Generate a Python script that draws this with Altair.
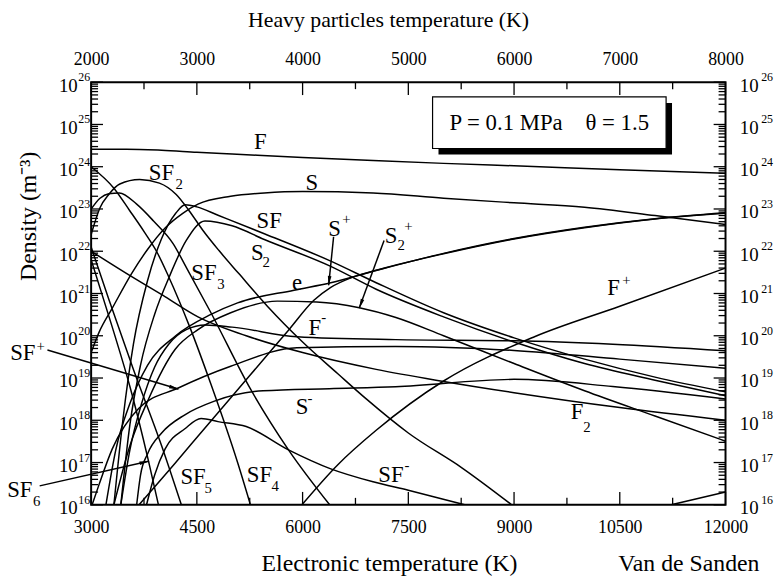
import altair as alt
import pandas as pd

FONT = "Liberation Serif"
W, H = 641, 427

# ---------------- curve data: electronic temperature (K) -> density (m^-3) ----------------
F_T = [3000, 3500, 4000, 4500, 5000, 6000, 7000, 8000, 9000, 10500, 12000]
F_N = [2.6e24, 2.6e24, 2.45e24, 2.2e24, 2.0e24, 1.65e24, 1.4e24, 1.2e24, 1.05e24, 8.5e23, 7.0e23]

S_T = [3000, 3112, 3300, 3576, 3800, 4053, 4300, 4516, 4980, 5457, 6000, 7000, 8000, 9000, 10000, 11000, 12000]
S_N = [4.0e19, 1.2e20, 4.5e20, 3.0e21, 1.1e22, 3.6e22, 7.9e22, 1.3e23, 2.0e23, 2.4e23, 2.6e23, 2.4e23, 1.8e23, 1.4e23, 1.1e23, 7.0e22, 4.3e22]

SF_T = [3323, 3450, 3600, 3800, 4000, 4200, 4334, 4500, 4800, 5457, 6384, 7044, 8000, 9000, 10000, 11000, 12000]
SF_N = [1e16, 1e18, 6.3e19, 2.0e21, 2.0e22, 7.9e22, 1.26e23, 1.12e23, 7.1e22, 2.6e22, 6.0e21, 1.8e21, 3.5e20, 8.9e19, 2.8e19, 1.05e19, 4.7e18]

S2_T = [3421, 3550, 3700, 3900, 4109, 4350, 4615, 5000, 5457, 6384, 7044, 8000, 9000, 10000, 11000, 12000]
S2_N = [1e16, 7.9e17, 2.0e19, 3.2e20, 2.5e21, 1.8e22, 5.2e22, 4.0e22, 1.9e22, 4.5e21, 1.26e21, 2.8e20, 7.1e19, 2.2e19, 8.9e18, 3.8e18]

SF2_T = [3000, 3126, 3250, 3407, 3688, 3969, 4207, 4390, 4587, 4811, 5092, 5500, 6000, 6500, 6903, 7500, 8265, 8967]
SF2_N = [2.5e22, 1.07e23, 2.2e23, 3.9e23, 5.0e23, 4.1e23, 2.2e23, 9.1e22, 3.1e22, 1.05e22, 3.0e21, 5.0e20, 7.1e19, 1.26e19, 3.2e18, 5.0e17, 7.4e16, 1.0e16]

SF3_T = [3000, 3126, 3250, 3400, 3646, 3885, 4165, 4348, 4700, 5260, 5800, 6384]
SF3_N = [1.0e23, 1.8e23, 2.3e23, 2.4e23, 1.3e23, 5.2e22, 1.5e22, 4.2e21, 3.5e20, 5.5e18, 2.0e17, 1.0e16]

SF4_T = [3000, 3323, 3548, 3758, 3927, 4100, 4400, 4700, 5078, 5260]
SF4_N = [1.0e24, 3.1e23, 9.1e22, 2.8e22, 1.0e22, 2.5e21, 1.6e20, 7.1e18, 1.0e17, 1.0e16]

SF5_T = [3000, 3253, 3600, 4000, 4280]
SF5_N = [1.26e22, 7.1e20, 1.6e19, 2.5e17, 1.0e16]

SF6_T = [3000, 3300, 3550, 3815, 3955]
SF6_N = [6.3e21, 1.6e20, 6.3e18, 1.07e17, 1.0e16]

F2_T = [3000, 3576, 4053, 4516, 5200, 6000, 7044, 8000, 9000, 10500, 12000]
F2_N = [1.0e22, 2.5e21, 8.3e20, 2.8e20, 1.0e20, 4.0e19, 1.6e19, 8.3e18, 4.5e18, 2.0e18, 1.0e18]

E_T = [3210, 3350, 3550, 3800, 4200, 4700, 5078, 5878, 6400, 7044, 8000, 9000, 10000, 11000, 12000]
E_N = [1.0e16, 2.0e17, 2.5e18, 2.0e19, 1.0e20, 3.2e20, 6.0e20, 1.2e21, 1.8e21, 3.5e21, 8.9e21, 2.0e22, 3.7e22, 5.9e22, 8.1e22]

SP_T = [3680, 4200, 4615, 5000, 5457, 5800, 6160, 6400, 6700, 7086, 8000, 9000, 10000, 11000, 12000]
SP_N = [1.0e16, 1.0e17, 6.6e17, 3.7e18, 2.9e19, 1.35e20, 6.9e20, 1.4e21, 2.4e21, 3.7e21, 8.7e21, 1.95e22, 3.6e22, 5.8e22, 7.9e22]

S2P_T = [3323, 3550, 3815, 4193, 4516, 4980, 5640, 6200, 6805, 7324, 8000, 9000, 10000, 11000, 12000]
S2P_N = [1.0e16, 2.5e17, 3.2e18, 4.8e19, 1.4e20, 3.5e20, 6.6e20, 6.3e20, 4.6e20, 2.7e20, 1.0e20, 2.2e19, 5.0e18, 1.26e18, 3.2e17]

FP_T = [5990, 6500, 7044, 8000, 9290, 10500, 12000]
FP_N = [1.0e16, 8.9e16, 5.8e17, 8.5e18, 9.5e19, 5.0e20, 4.0e21]

FM_T = [3421, 3550, 3716, 3900, 4100, 4350, 4620, 5000, 5920, 7320, 9000, 10400, 12000]
FM_N = [1e16, 2.0e17, 2.5e18, 1.8e19, 6.3e19, 1.4e20, 1.8e20, 1.6e20, 9.5e19, 8.1e19, 7.6e19, 6.3e19, 4.4e19]

SFP_T = [3014, 3112, 3300, 3674, 4236, 4980, 5920, 7320, 9000, 10500, 12000]
SFP_N = [1e16, 3.0e16, 2.1e17, 1.9e18, 5.8e18, 1.9e19, 5.2e19, 5.6e19, 4.5e19, 2.8e19, 1.7e19]

SM_T = [3646, 3700, 3800, 4000, 4330, 4740, 5440, 6380, 7320, 9000, 10400, 12000]
SM_N = [1e16, 5.0e16, 1.6e17, 5.0e17, 1.35e18, 2.8e18, 5.0e18, 5.6e18, 6.2e18, 9.3e18, 6.3e18, 3.2e18]

SFM_T = [3786, 3900, 4050, 4330, 4560, 4800, 5200, 5800, 6400, 7000, 7500, 8300]
SFM_N = [1e16, 5.0e16, 2.1e17, 6.3e17, 1.1e18, 9.3e17, 7.1e17, 2.0e17, 7.1e16, 3.5e16, 2.2e16, 1.0e16]

X_T = [11230, 12000]
X_N = [1e16, 2e16]

SPECIES = [
    ("F", F_T, F_N), ("S", S_T, S_N), ("SF", SF_T, SF_N), ("S2", S2_T, S2_N),
    ("SF2", SF2_T, SF2_N), ("SF3", SF3_T, SF3_N), ("SF4", SF4_T, SF4_N),
    ("SF5", SF5_T, SF5_N), ("SF6", SF6_T, SF6_N), ("F2", F2_T, F2_N),
    ("e", E_T, E_N), ("S+", SP_T, SP_N), ("S2+", S2P_T, S2P_N), ("F+", FP_T, FP_N),
    ("F-", FM_T, FM_N), ("SF+", SFP_T, SFP_N), ("S-", SM_T, SM_N), ("SF-", SFM_T, SFM_N),
    ("X", X_T, X_N),
]

# ---------------- labels (position in data units) ----------------
LABEL_TEXT = ["F", "S", "SF", "SF", "S", "SF", "e", "S", "S", "F", "F", "SF", "S", "F", "SF", "SF", "SF", "SF"]
LABEL_TE = [5401, 6131, 3997, 5527, 5359, 4601, 5920, 6454, 7254, 6173, 10413, 2031, 5991, 9894, 7254, 5387, 4446, 1989]
LABEL_N = [3.9e24, 4.1e23, 7.0e23, 5.3e22, 8.9e21, 3.0e21, 1.76e21, 3.4e22, 2.3e22, 1.56e20, 1.35e21, 4.0e19, 2.1e18, 1.6e18, 5.0e16, 5.0e16, 4.5e16, 2.2e16]

SMALL_TEXT = ["2", "2", "3", "+", "2", "+", "-", "+", "+", "-", "2", "-", "4", "5", "6"]
SMALL_TE = [4250, 5485, 4840, 6622, 7400, 7500, 6299, 10596, 2284, 6103, 10034, 7479, 5610, 4660, 2228]
SMALL_N = [3.9e23, 5.5e21, 1.67e21, 5.9e22, 1.37e22, 4.0e22, 2.7e20, 2.1e21, 5.6e19, 3.4e18, 7.1e17, 8.7e16, 2.8e16, 2.5e16, 1.24e16]

# arrows: start and tip
ARROW_TE0 = [6440, 7156, 2380, 2270]
ARROW_N0 = [2.2e22, 1.8e22, 4.6e19, 2.8e16]
ARROW_TE1 = [6370, 6805, 4236, 3814]
ARROW_N1 = [1.58e21, 4.6e20, 5.5e18, 1.07e17]
HEAD_TE = [6376, 6825, 4182, 3760]
HEAD_N = [1.96e21, 5.6e20, 5.8e18, 1.02e17]
HEAD_ANGLE = [186, 200, 106, 77]

BOX_TE = [7844, 11157]
BOX_N = [4.5e25, 2.7e24]
SHADOW_TE = [7928, 11241]
SHADOW_N = [3.2e25, 1.95e24]
BOX_LABEL = "P = 0.1 MPa\u00a0\u00a0\u00a0\u00a0θ = 1.5"
BOX_LABEL_POS = (9500, 1.1e25)
CREDIT = "Van de Sanden"
CREDIT_POS = (11480, 2.7e14)

# ---------------- ticks ----------------
BOTTOM_MAJOR = [3000, 4500, 6000, 7500, 9000, 10500, 12000]
BOTTOM_MINOR = [3750, 5250, 6750, 8250, 9750, 11250]
TOP_MAJOR = [2000, 3000, 4000, 5000, 6000, 7000, 8000]
TOP_MINOR = [2500, 3500, 4500, 5500, 6500, 7500]
DECADES = [1e16, 1e17, 1e18, 1e19, 1e20, 1e21, 1e22, 1e23, 1e24, 1e25, 1e26]
EXPONENTS = ["16", "17", "18", "19", "20", "21", "22", "23", "24", "25", "26"]
Y_MINOR = [m * d for d in DECADES[:-1] for m in range(2, 10)]

# ---------------- build ----------------
rows = []
for name, ts, ns in SPECIES:
    for t, n in zip(ts, ns):
        rows.append({"species": name, "Te": t, "n": n})
curves_df = pd.DataFrame(rows)

XS = alt.Scale(domain=[3000, 12000], nice=False, zero=False)
YS = alt.Scale(type="log", domain=[1e16, 1e26], nice=False)
THS = alt.Scale(domain=[2000, 8000], nice=False, zero=False)


def xq(field, axis=None, scale=XS):
    return alt.X(field, type="quantitative", scale=scale, axis=axis)


def yq(field, axis=None):
    return alt.Y(field, type="quantitative", scale=YS, axis=axis)


common_axis = dict(ticks=False, domain=False, grid=False, labelFont=FONT, labelFontSize=18,
                   labelColor="black", titleFont=FONT, titleFontWeight="normal",
                   titleColor="black", labelOverlap=False, labelFlush=False)

curves = alt.Chart(curves_df).mark_line(
    color="black", strokeWidth=1.5, interpolate="monotone", clip=True
).encode(
    x=xq("Te", alt.Axis(orient="bottom", values=BOTTOM_MAJOR, format="d", labelPadding=14,
                         title="Electronic temperature (K)", titleFontSize=24, titleX=301,
                         titleAlign="center", titleY=66, titleBaseline="alphabetic",
                         **common_axis)),
    y=yq("n", alt.Axis(orient="left", values=DECADES, labelExpr="'10'", labelPadding=14,
                        labelBaseline="middle", labelOffset=3,
                        title="Density (m\u207b\u00b3)", titleFontSize=24, titleX=-56, titleY=135,
                        titleBaseline="alphabetic", **dict(common_axis, labelFontSize=19))),
    detail="species:N",
)

tick_style = dict(color="black", strokeWidth=1.3)

bottom_major = alt.Chart(pd.DataFrame({"Te": BOTTOM_MAJOR})).mark_rule(**tick_style).encode(
    x=xq("Te"), y=alt.value(H - 13), y2=alt.value(H))
bottom_minor = alt.Chart(pd.DataFrame({"Te": BOTTOM_MINOR})).mark_rule(**tick_style).encode(
    x=xq("Te"), y=alt.value(H - 7), y2=alt.value(H))

top_major = alt.Chart(pd.DataFrame({"Th": TOP_MAJOR})).mark_rule(**tick_style).encode(
    x=xq("Th", alt.Axis(orient="top", values=TOP_MAJOR, format="d", labelPadding=14,
                         title="Heavy particles temperature (K)", titleFontSize=22, titleX=300,
                         titleAlign="center", titleY=-56,
                         titleBaseline="alphabetic", **common_axis), scale=THS),
    y=alt.value(0), y2=alt.value(13))
top_minor = alt.Chart(pd.DataFrame({"Th": TOP_MINOR})).mark_rule(**tick_style).encode(
    x=xq("Th", scale=THS), y=alt.value(0), y2=alt.value(7))

left_major = alt.Chart(pd.DataFrame({"n": DECADES})).mark_rule(**tick_style).encode(
    y=yq("n"), x=alt.value(0), x2=alt.value(12))
left_minor = alt.Chart(pd.DataFrame({"n": Y_MINOR})).mark_rule(**tick_style).encode(
    y=yq("n"), x=alt.value(0), x2=alt.value(7))
right_major = alt.Chart(pd.DataFrame({"n": DECADES})).mark_rule(**tick_style).encode(
    y=yq("n", alt.Axis(orient="right", values=DECADES, labelExpr="'10'", labelPadding=14,
                        labelBaseline="middle", labelOffset=3, title=None,
                        **dict(common_axis, labelFontSize=19))),
    x=alt.value(W - 12), x2=alt.value(W))
right_minor = alt.Chart(pd.DataFrame({"n": Y_MINOR})).mark_rule(**tick_style).encode(
    y=yq("n"), x=alt.value(W - 7), x2=alt.value(W))

exp_df = pd.DataFrame({"n": DECADES, "e": EXPONENTS})
left_exp = alt.Chart(exp_df).mark_text(font=FONT, fontSize=12, align="right", baseline="middle",
                                       dy=-5, color="black").encode(
    y=yq("n"), x=alt.value(-1), text="e:N")
right_exp = alt.Chart(exp_df).mark_text(font=FONT, fontSize=12, align="left", baseline="middle",
                                        dy=-5, color="black").encode(
    y=yq("n"), x=alt.value(W + 36), text="e:N")

lab_df = pd.DataFrame({"t": LABEL_TEXT, "Te": LABEL_TE, "n": LABEL_N})
labels = alt.Chart(lab_df).mark_text(font=FONT, fontSize=23, align="center", baseline="middle",
                                     color="black").encode(x=xq("Te"), y=yq("n"), text="t:N")
small_df = pd.DataFrame({"t": SMALL_TEXT, "Te": SMALL_TE, "n": SMALL_N})
small = alt.Chart(small_df).mark_text(font=FONT, fontSize=15, align="center", baseline="middle",
                                      color="black").encode(x=xq("Te"), y=yq("n"), text="t:N")

arr_df = pd.DataFrame({"Te0": ARROW_TE0, "n0": ARROW_N0, "Te1": ARROW_TE1, "n1": ARROW_N1})
arrows = alt.Chart(arr_df).mark_rule(color="black", strokeWidth=1.5).encode(
    x=xq("Te0"), x2="Te1", y=yq("n0"), y2="n1")
head_df = pd.DataFrame({"Te": HEAD_TE, "n": HEAD_N, "a": HEAD_ANGLE})
heads = alt.Chart(head_df).mark_point(shape="M0,-1L0.35,1L-0.35,1Z", filled=True, fill="black",
                                      opacity=1, size=110, strokeWidth=0).encode(
    x=xq("Te"), y=yq("n"), angle=alt.Angle("a:Q", scale=None))

shadow = alt.Chart(pd.DataFrame({"a": [SHADOW_TE[0]], "b": [SHADOW_TE[1]],
                                 "c": [SHADOW_N[0]], "d": [SHADOW_N[1]]})).mark_rect(
    fill="black").encode(x=xq("a"), x2="b", y=yq("c"), y2="d")
box = alt.Chart(pd.DataFrame({"a": [BOX_TE[0]], "b": [BOX_TE[1]],
                              "c": [BOX_N[0]], "d": [BOX_N[1]]})).mark_rect(
    fill="white", stroke="black", strokeWidth=1.2).encode(x=xq("a"), x2="b", y=yq("c"), y2="d")
box_text = alt.Chart(pd.DataFrame({"Te": [BOX_LABEL_POS[0]], "n": [BOX_LABEL_POS[1]],
                                   "t": [BOX_LABEL]})).mark_text(
    font=FONT, fontSize=23, align="center", baseline="middle", color="black").encode(
    x=xq("Te"), y=yq("n"), text="t:N")
credit = alt.Chart(pd.DataFrame({"Te": [CREDIT_POS[0]], "n": [CREDIT_POS[1]],
                                 "t": [CREDIT]})).mark_text(
    font=FONT, fontSize=24, align="center", baseline="alphabetic", color="black").encode(
    x=xq("Te"), y=yq("n"), text="t:N")

chart = alt.layer(
    curves, bottom_major, bottom_minor, top_major, top_minor,
    left_major, left_minor, right_major, right_minor, left_exp, right_exp,
    labels, small, arrows, heads, shadow, box, box_text, credit,
).resolve_scale(x="independent", y="independent").properties(
    width=W, height=H,
    autosize=alt.AutoSizeParams(type="none"),
    padding={"left": 84, "top": 72, "right": 50, "bottom": 72},
    background="white",
).configure_view(stroke="black", strokeWidth=2)

chart.save("out.html", embed_options={"renderer": "svg", "actions": False})
